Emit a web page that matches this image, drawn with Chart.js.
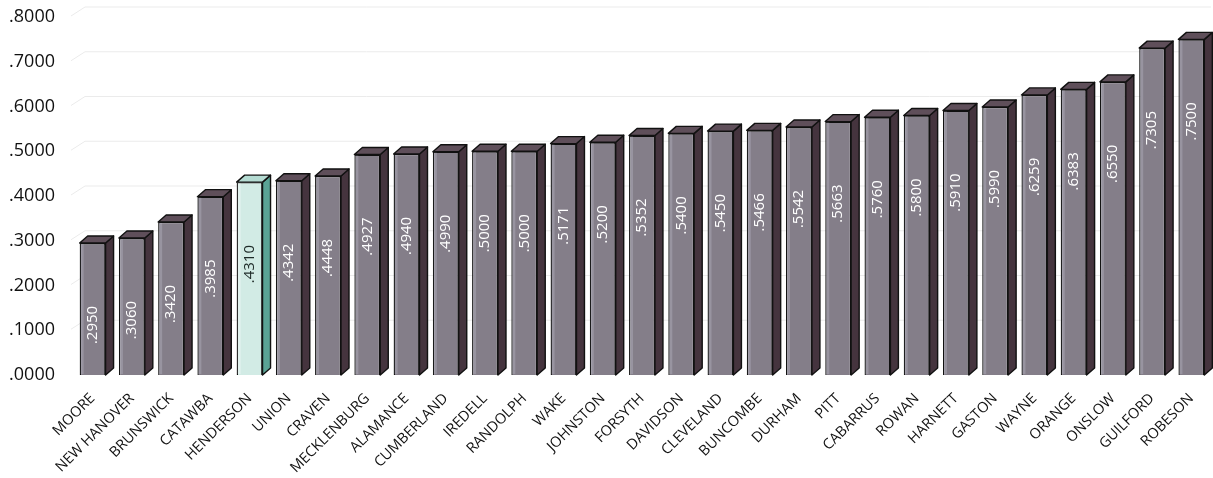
<!DOCTYPE html>
<html>
<head>
<meta charset="utf-8">
<script src="https://cdn.jsdelivr.net/npm/chart.js@4.4.1/dist/chart.umd.min.js"></script>
<style>
  html, body { margin: 0; padding: 0; background: #fff; }
  #wrap { width: 1213px; height: 478px; }
</style>
</head>
<body>
<div id="wrap"><canvas id="barChart"></canvas></div>
<script>
// county rates
const counties = ['MOORE', 'NEW HANOVER', 'BRUNSWICK', 'CATAWBA', 'HENDERSON', 'UNION', 'CRAVEN',
  'MECKLENBURG', 'ALAMANCE', 'CUMBERLAND', 'IREDELL', 'RANDOLPH', 'WAKE', 'JOHNSTON', 'FORSYTH',
  'DAVIDSON', 'CLEVELAND', 'BUNCOMBE', 'DURHAM', 'PITT', 'CABARRUS', 'ROWAN', 'HARNETT', 'GASTON',
  'WAYNE', 'ORANGE', 'ONSLOW', 'GUILFORD', 'ROBESON'];
const rates = [0.2950, 0.3060, 0.3420, 0.3985, 0.4310, 0.4342, 0.4448, 0.4927, 0.4940, 0.4990,
  0.5000, 0.5000, 0.5171, 0.5200, 0.5352, 0.5400, 0.5450, 0.5466, 0.5542, 0.5663, 0.5760,
  0.5800, 0.5910, 0.5990, 0.6259, 0.6383, 0.6550, 0.7305, 0.7500];
const yTicks = [0, 0.1, 0.2, 0.3, 0.4, 0.5, 0.6, 0.7, 0.8];
const highlight = 'HENDERSON';

const fmt = v => v.toFixed(4).replace(/^0/, '');
const isHi = i => counties[i] === highlight;

const DX = 8, DY = -7;

// back wall grid lines, drawn before the bars
const backGrid = {
  id: 'backGrid',
  beforeDatasetsDraw(chart) {
    const ctx = chart.ctx, y = chart.scales.y, area = chart.chartArea;
    ctx.save();
    ctx.strokeStyle = '#ebebeb';
    ctx.lineWidth = 1;
    yTicks.forEach(t => {
      if (t === 0) return;
      const py = y.getPixelForValue(t);
      ctx.beginPath();
      ctx.moveTo(area.left - 2, py - 1);
      ctx.lineTo(area.left + DX + 4, py + DY - 3);
      ctx.lineTo(area.right, py + DY - 3);
      ctx.stroke();
    });
    ctx.restore();
  }
};

// side + top faces and the value labels
const bars3d = {
  id: 'bars3d',
  afterDatasetsDraw(chart) {
    const ctx = chart.ctx;
    const meta = chart.getDatasetMeta(0);
    ctx.save();
    meta.data.forEach((bar, i) => {
      const l = bar.x - bar.width / 2, r = bar.x + bar.width / 2;
      const t = bar.y, b = bar.base;
      ctx.lineWidth = 1.4;
      ctx.strokeStyle = '#111';
      ctx.lineJoin = 'round';
      // side
      ctx.beginPath();
      ctx.moveTo(r, t);
      ctx.lineTo(r + DX, t + DY);
      ctx.lineTo(r + DX, b + DY);
      ctx.lineTo(r, b);
      ctx.closePath();
      ctx.fillStyle = isHi(i) ? '#5aa395' : '#45343e';
      ctx.fill();
      ctx.stroke();
      // top
      ctx.beginPath();
      ctx.moveTo(l, t);
      ctx.lineTo(l + DX, t + DY);
      ctx.lineTo(r + DX, t + DY);
      ctx.lineTo(r, t);
      ctx.closePath();
      ctx.fillStyle = isHi(i) ? '#b4dbd2' : '#5f4f5a';
      ctx.fill();
      ctx.stroke();
      // light left edge on the front
      ctx.fillStyle = isHi(i) ? 'rgba(255,255,255,0.35)' : 'rgba(200,200,215,0.3)';
      ctx.fillRect(l + 1, t + 1, 3, b - t - 2);
      // value label
      ctx.save();
      ctx.translate(bar.x, t + 82);
      ctx.rotate(-Math.PI / 2);
      ctx.font = '15px "Open Sans", sans-serif';
      ctx.textAlign = 'center';
      ctx.textBaseline = 'middle';
      ctx.fillStyle = isHi(i) ? '#1e2a28' : '#ffffff';
      ctx.fillText(fmt(rates[i]), 0, 0);
      ctx.restore();
    });
    ctx.restore();
  }
};

const ctx = document.getElementById('barChart');
let myChart = new Chart(ctx, {
  type: 'bar',
  data: {
    labels: counties,
    datasets: [{
      data: rates,
      backgroundColor: counties.map(c => c === highlight ? '#d2ebe5' : '#847e89'),
      borderColor: '#111',
      borderWidth: 1.4,
      barPercentage: 0.66,
      categoryPercentage: 1.0
    }]
  },
  options: {
    responsive: true,
    maintainAspectRatio: false,
    animation: false,
    layout: { padding: { top: 17, right: 2, left: 0, bottom: 0 } },
    plugins: { legend: { display: false }, tooltip: { enabled: false } },
    scales: {
      x: {
        afterFit(axis) { axis.height = 103; axis.paddingLeft = 0; axis.paddingRight = 0; },
        grid: { display: false, drawTicks: false },
        border: { display: false },
        ticks: {
          color: '#111',
          font: { family: '"Open Sans", sans-serif', size: 14.5 },
          minRotation: 45,
          maxRotation: 45,
          padding: 15,
          autoSkip: false
        }
      },
      y: {
        min: 0,
        max: 0.8,
        afterBuildTicks(axis) { axis.ticks = yTicks.map(v => ({ value: v })); },
        afterFit(axis) { axis.width = 73; axis.paddingTop = 0; axis.paddingBottom = 0; },
        grid: { display: false, drawTicks: false },
        border: { display: false },
        ticks: {
          color: '#111',
          font: { family: '"Open Sans", sans-serif', size: 18 },
          padding: 18,
          callback: v => fmt(v)
        }
      }
    }
  },
  plugins: [backGrid, bars3d]
});
</script>
</body>
</html>
